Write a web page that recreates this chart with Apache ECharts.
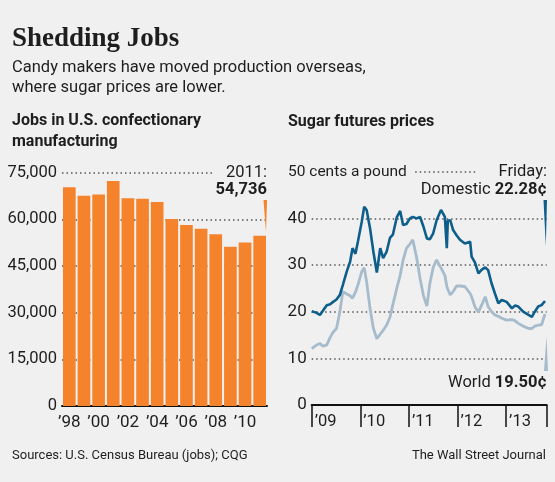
<!DOCTYPE html>
<html>
<head>
<meta charset="utf-8">
<script src="https://cdn.jsdelivr.net/npm/echarts@6/dist/echarts.min.js"></script>
<style>
html,body{margin:0;padding:0;background:#f0f0f0;}
#c{width:555px;height:482px;}
</style>
</head>
<body>
<div id="c"></div>
<script>
// ---- data ----
const jobYears = ['1998','1999','2000','2001','2002','2003','2004','2005','2006','2007','2008','2009','2010','2011'];
const jobs = [70300, 67600, 68000, 72300, 66750, 66650, 65550, 60100, 58200, 57000, 55200, 51200, 52600, 54736];
const jobTicks = [0, 15000, 30000, 45000, 60000, 75000];

const sugarDates = [2009.00,2009.09,2009.17,2009.23,2009.31,2009.38,2009.44,2009.51,2009.58,2009.64,
  2009.72,2009.79,2009.84,2009.90,2009.95,2010.03,2010.08,2010.13,2010.20,2010.27,
  2010.34,2010.41,2010.47,2010.54,2010.61,2010.67,2010.75,2010.82,2010.88,2010.95,
  2011.02,2011.08,2011.16,2011.23,2011.30,2011.37,2011.43,2011.50,2011.57,2011.66,
  2011.74,2011.78,2011.80,2011.85,2011.91,2011.98,2012.05,2012.15,2012.26,2012.29,
  2012.36,2012.43,2012.50,2012.57,2012.63,2012.70,2012.77,2012.84,2012.91,2013.01,
  2013.12,2013.18,2013.25,2013.35,2013.46,2013.53,2013.59,2013.66,2013.73,2013.80];
const domestic = [20.1,19.8,19.3,20.2,21.4,21.6,22.1,22.6,23.6,25.7,
  28.6,30.7,33.6,32.4,35,39.3,42.5,41.8,37.9,32.8,
  28.4,33.6,31.5,32.8,35.8,36.5,40.2,41.6,38.6,38.8,
  40,40.3,40,40.3,38.2,35.7,35.5,36.8,39.6,41.8,
  40.3,33.6,39.5,39.6,37.5,36.4,35.4,34.6,35,31.8,
  30.5,28.2,29,29.5,28.9,26.1,23.9,21.8,22.5,22.1,
  20.7,21.3,21.1,20,19.3,18.9,20,21.1,21.4,22.28];
const world = [12.1,12.8,13.2,12.6,12.9,14.5,15.6,16.4,20,24.3,
  23.8,23.4,22.9,24.2,25.7,28.6,29.4,26.4,20.7,16.4,
  14.2,15.2,16,17.1,18.8,21.5,25,27.8,31,33.6,
  34.5,35.4,31.5,27.1,23.4,21.2,26,29.5,31.1,29.4,
  27.8,25.4,24.8,23.6,24.3,25.5,25.5,25.4,23.9,23.2,
  21,19.9,21.5,23.2,21.1,20,19.3,19.0,18.6,18.2,
  18.3,18.1,17.5,16.9,16.4,16.4,16.9,17.1,17.2,19.5];
const sugarTicks = [0, 10, 20, 30, 40, 50];
const sugarYears = [2009, 2010, 2011, 2012, 2013];

// ---- styles ----
const BG = '#f0f0f0';
const INK = '#1e1e1e';
const SANS = "Roboto,'DejaVu Sans Condensed',sans-serif";
const SERIF = "'Liberation Serif','DejaVu Serif',serif";
const ORANGE = '#f5832b';
const DOM = '#0e5e8b';
const WLD = '#a6bbcb';
const dotted = {color:'#555', width:1.5, type:[1.5,3]};

const chart = echarts.init(document.getElementById('c'), null, {renderer:'canvas'});

function txt(text, x, y, font, align, extra) {
  return Object.assign({type:'text', x:x, y:y, z:100,
    style:Object.assign({text:text, font:font, fill:INK, textAlign:align||'left', textVerticalAlign:'middle'}, extra||{})});
}

const lastJob = jobs[jobs.length-1];
const lastDom = domestic[domestic.length-1];
const lastWld = world[world.length-1];

const option = {
  backgroundColor: BG,
  animation: false,
  grid: [
    {left:62, top:172.7, width:205, height:233.3, outerBoundsMode:'none', containLabel:false},
    {left:311.7, top:171.7, width:235, height:233.3, outerBoundsMode:'none', containLabel:false}
  ],
  xAxis: [
    {gridIndex:0, type:'category', data:jobYears,
     axisLine:{lineStyle:{color:'#111', width:2}}, axisTick:{show:false},
     axisLabel:{interval:1, formatter:function(y){return "\u2019"+y.slice(2);}, fontSize:17, fontFamily:SANS, color:INK, margin:8}},
    {gridIndex:1, type:'value', min:2009, max:2013.835, interval:1,
     axisLine:{lineStyle:{color:'#111', width:2}},
     axisTick:{show:true, length:22, lineStyle:{color:'#111', width:1.5}},
     axisLabel:{formatter:function(v){return sugarYears.indexOf(v)>=0 ? "\u2019"+String(v).slice(2) : '';}, align:'left', padding:[0,0,0,3], fontSize:16.5, fontFamily:SANS, color:INK, margin:8},
     splitLine:{show:false}}
  ],
  yAxis: [
    {gridIndex:0, type:'value', min:jobTicks[0], max:jobTicks[jobTicks.length-1], interval:15000,
     axisLine:{show:false}, axisTick:{show:false},
     axisLabel:{formatter:function(v){return v.toLocaleString('en-US');}, fontSize:16.5, fontFamily:SANS, color:INK, margin:5},
     splitLine:{show:true, lineStyle:dotted}},
    {gridIndex:1, type:'value', min:sugarTicks[0], max:sugarTicks[sugarTicks.length-1], interval:10,
     axisLine:{show:false}, axisTick:{show:false},
     axisLabel:{formatter:function(v){return v===50 ? '' : String(v);}, fontSize:17, fontFamily:SANS, color:INK, margin:5},
     splitLine:{show:true, lineStyle:dotted}}
  ],
  series: [
    {type:'bar', xAxisIndex:0, yAxisIndex:0, data:jobs, barCategoryGap:'13.6%', itemStyle:{color:ORANGE}},
    {type:'line', xAxisIndex:1, yAxisIndex:1, data:sugarDates.map(function(d,i){return [d, world[i]];}),
     showSymbol:false, lineStyle:{color:WLD, width:2.8}},
    {type:'line', xAxisIndex:1, yAxisIndex:1, data:sugarDates.map(function(d,i){return [d, domestic[i]];}),
     showSymbol:false, lineStyle:{color:DOM, width:2.6}}
  ],
  graphic: [
    txt('Shedding Jobs', 12, 39, "bold 27px "+SERIF),
    txt('Candy makers have moved production overseas,\nwhere sugar prices are lower.', 12, 78.3, "16.5px "+SANS, 'left', {lineHeight:20}),
    txt('Jobs in U.S. confectionary\nmanufacturing', 12, 131.7, "bold 16px "+SANS, 'left', {lineHeight:20.5}),
    txt('Sugar futures prices', 288, 121.5, "bold 16px "+SANS),
    txt('2011:', 267, 172.7, "16.5px "+SANS, 'right', {backgroundColor:BG, padding:[0,0,0,12]}),
    txt(lastJob.toLocaleString('en-US'), 267, 190, "bold 16.5px "+SANS, 'right'),
    txt('50 cents a pound', 288, 171.7, "15.5px "+SANS, 'left', {backgroundColor:BG, padding:[0,7,0,0]}),
    txt('Friday:', 547, 172, "16.5px "+SANS, 'right', {backgroundColor:BG, padding:[0,0,0,23]}),
    {type:'text', x:547, y:190, z:100, style:{text:'{a|Domestic }{b|'+lastDom.toFixed(2)+'\u00a2}', textAlign:'right', textVerticalAlign:'middle',
      rich:{a:{font:"16.5px "+SANS, fill:INK}, b:{font:"bold 16.5px "+SANS, fill:INK}}}},
    {type:'text', x:547, y:383, z:100, style:{text:'{a|World }{b|'+lastWld.toFixed(2)+'\u00a2}', textAlign:'right', textVerticalAlign:'middle',
      rich:{a:{font:"16.5px "+SANS, fill:INK}, b:{font:"bold 16.5px "+SANS, fill:INK}}}},
    txt('Sources: U.S. Census Bureau (jobs); CQG', 12, 456, "13px "+SANS),
    txt('The Wall Street Journal', 546, 456, "13px "+SANS, 'right'),
    {type:'polygon', z:50, shape:{points:[[263.5,200],[267,200],[266,232]]}, style:{fill:ORANGE}},
    {type:'polygon', z:50, shape:{points:[[543.5,200],[547,200],[545.8,246]]}, style:{fill:DOM}},
    {type:'polygon', z:50, shape:{points:[[546.5,336],[548,371],[544,371]]}, style:{fill:WLD}}
  ]
};
chart.setOption(option);
</script>
</body>
</html>
